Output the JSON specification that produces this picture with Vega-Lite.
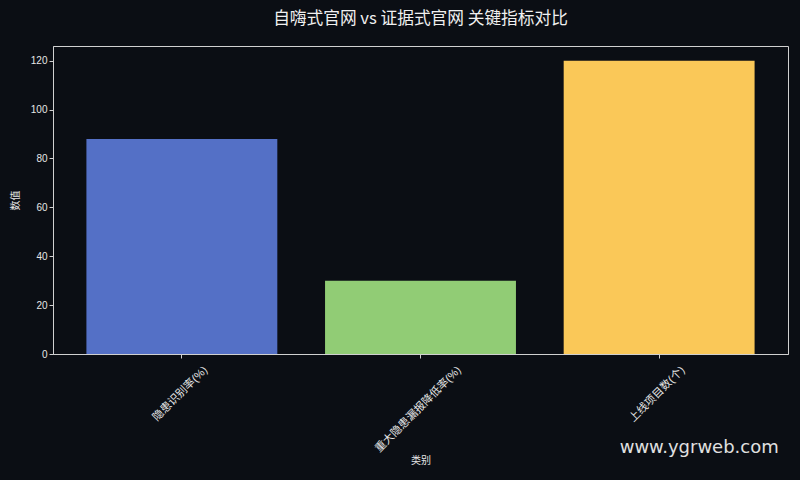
{
  "$schema": "https://vega.github.io/schema/vega-lite/v6.json",
  "width": 735,
  "height": 308,
  "autosize": {"type": "none"},
  "padding": {"left": 53, "top": 46, "right": 12, "bottom": 126},
  "background": "#0b0e14",
  "config": {
    "font": "DejaVu Sans",
    "view": {"stroke": "#d0d0d0", "strokeWidth": 1},
    "axis": {
      "domainColor": "#d0d0d0",
      "tickColor": "#d0d0d0",
      "labelColor": "#e6e6e6",
      "titleColor": "#e6e6e6",
      "labelFont": "Liberation Sans, Noto Sans CJK SC",
      "titleFont": "Noto Sans CJK SC",
      "labelFontSize": 10,
      "titleFontSize": 10,
      "titleFontWeight": "normal",
      "tickSize": 4,
      "grid": false
    }
  },
  "title": {
    "text": "自嗨式官网 vs 证据式官网 关键指标对比",
    "font": "Noto Sans CJK SC",
    "fontSize": 16.7,
    "fontWeight": "normal",
    "color": "#f0f0f0",
    "anchor": "middle",
    "offset": 18
  },
  "data": {
    "values": [
      {"category": "隐患识别率(%)", "value": 88},
      {"category": "重大隐患漏报降低率(%)", "value": 30},
      {"category": "上线项目数(个)", "value": 120}
    ]
  },
  "layer": [
    {
      "mark": {"type": "bar"},
      "encoding": {
        "x": {
          "field": "category",
          "type": "nominal",
          "sort": ["隐患识别率(%)", "重大隐患漏报降低率(%)", "上线项目数(个)"],
          "title": "类别",
          "scale": {"paddingInner": 0.2, "paddingOuter": 0.14},
          "axis": {
            "labelAngle": -45,
            "labelAlign": "right",
            "labelBaseline": "middle",
            "labelFontSize": 11,
            "labelPadding": 10,
            "labelOffset": {"condition": {"test": "length(datum.label) > 9", "value": 39}, "value": 24},
            "titlePadding": 2
          }
        },
        "y": {
          "field": "value",
          "type": "quantitative",
          "title": "数值",
          "scale": {"domain": [0, 126], "nice": false},
          "axis": {"values": [0, 20, 40, 60, 80, 100, 120], "titlePadding": 10}
        },
        "color": {
          "field": "category",
          "type": "nominal",
          "sort": ["隐患识别率(%)", "重大隐患漏报降低率(%)", "上线项目数(个)"],
          "legend": null,
          "scale": {"range": ["#5470c6", "#91cc75", "#fac858"]}
        }
      }
    },
    {
      "data": {"values": [{"category": "上线项目数(个)", "mark": "www.ygrweb.com"}]},
      "mark": {"type": "text", "font": "DejaVu Sans", "fontSize": 18, "color": "#e0e0e0", "align": "center", "baseline": "middle"},
      "encoding": {
        "x": {"field": "category", "type": "nominal", "sort": ["隐患识别率(%)", "重大隐患漏报降低率(%)", "上线项目数(个)"], "bandPosition": 0.71},
        "y": {"datum": -38.5},
        "text": {"field": "mark"}
      }
    }
  ]
}
